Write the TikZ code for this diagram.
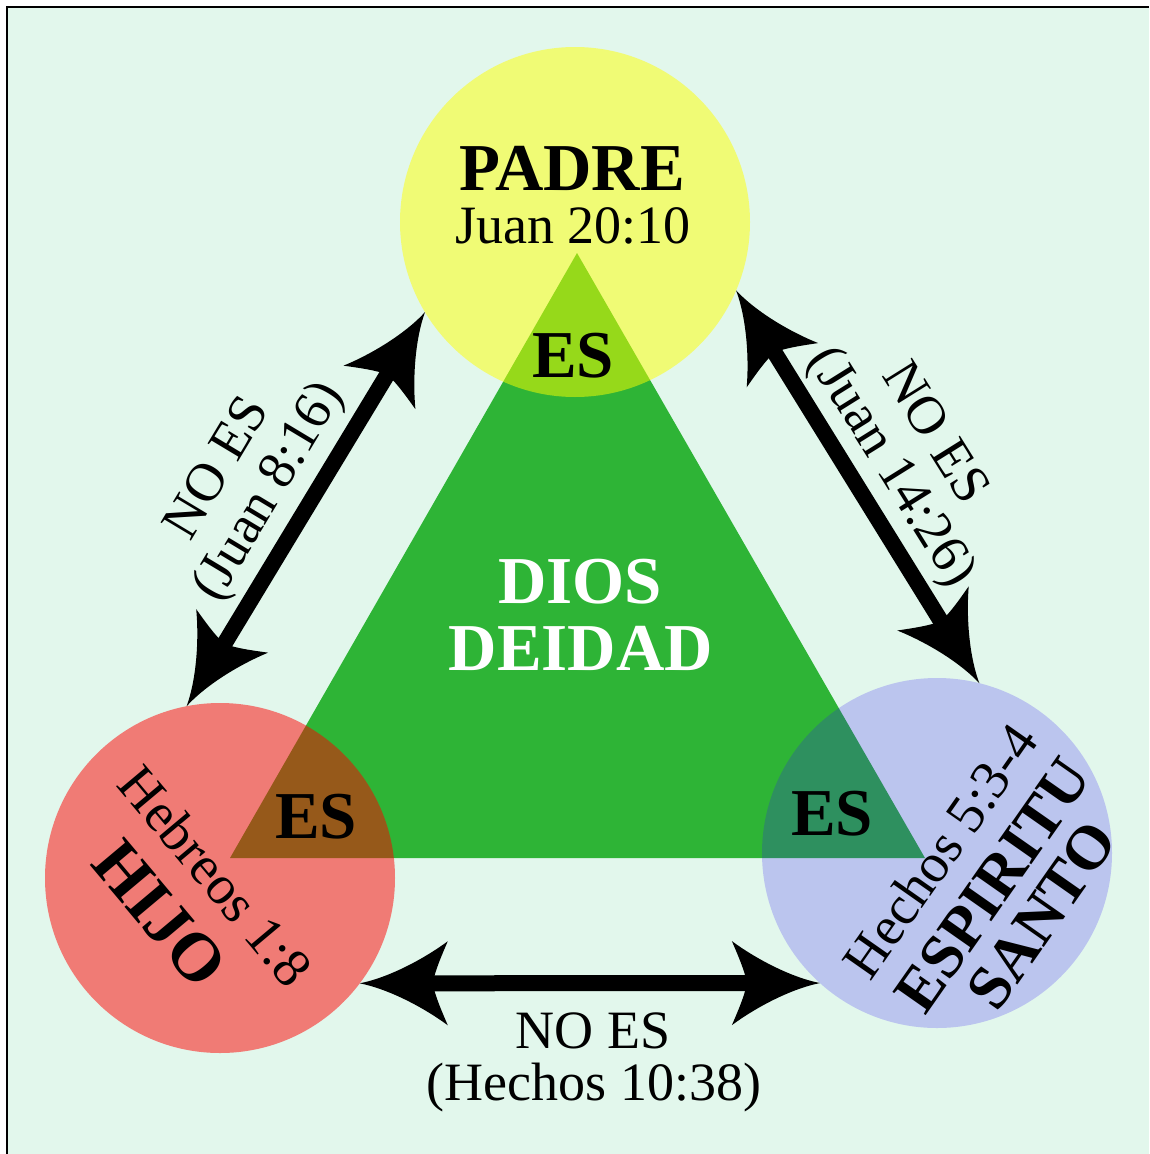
\documentclass[tikz,border=0pt]{standalone}
\usepackage{fontspec}
\setmainfont{Liberation Serif}
\definecolor{bgmint}{RGB}{226,247,236}
\definecolor{trigreen}{RGB}{46,180,54}
\definecolor{yel}{RGB}{255,255,0}
\definecolor{redc}{RGB}{255,0,0}
\definecolor{bluec}{RGB}{46,13,249}
\pgfdeclarearrow{
  name = Curvy,
  setup code = {
    \pgfarrowssettipend{0pt}
    \pgfarrowssetbackend{-88pt}
    \pgfarrowssetlineend{-68pt}
    \pgfarrowssetvisualbackend{-72pt}
    \pgfarrowshullpoint{0pt}{0pt}
    \pgfarrowshullpoint{-88pt}{42pt}
    \pgfarrowshullpoint{-88pt}{-42pt}
  },
  drawing code = {
    \pgfpathmoveto{\pgfpoint{0pt}{0pt}}
    \pgfpathcurveto{\pgfpoint{-30pt}{6pt}}{\pgfpoint{-65pt}{25pt}}{\pgfpoint{-88pt}{42pt}}
    \pgfpathcurveto{\pgfpoint{-82pt}{28pt}}{\pgfpoint{-75pt}{12pt}}{\pgfpoint{-73pt}{0pt}}
    \pgfpathcurveto{\pgfpoint{-75pt}{-12pt}}{\pgfpoint{-82pt}{-28pt}}{\pgfpoint{-88pt}{-42pt}}
    \pgfpathcurveto{\pgfpoint{-65pt}{-25pt}}{\pgfpoint{-30pt}{-6pt}}{\pgfpoint{0pt}{0pt}}
    \pgfpathclose
    \pgfusepathqfill
  },
}
\tikzset{
  disc/.style={circle, minimum size=350pt, inner sep=0pt, outer sep=0pt, draw=none},
  lbl/.style={inner sep=0pt, outer sep=0pt, font=\fontsize{54}{54}\selectfont},
  blbl/.style={inner sep=0pt, outer sep=0pt, font=\fontsize{67}{67}\selectfont\bfseries},
  rlbl/.style={inner sep=0pt, outer sep=0pt, font=\fontsize{55}{55}\selectfont},
  conn/.style={line width=16pt, color=black, Curvy-Curvy},
}
\begin{document}
\begin{tikzpicture}[x=1pt, y=-1pt]
\useasboundingbox (0,0) rectangle (1149,1154);
\fill[white] (0,0) rectangle (1149,1154);
\fill[bgmint] (7,7) rectangle (1149,1154);
\draw[line width=2.5pt, black] (7,1154) -- (7,7) -- (1149,7);
% triangle
\fill[trigreen] (577,253) -- (230,858) -- (925,858) -- cycle;
% circles
\node[disc, fill=yel, fill opacity=0.5] (padre) at (575,222) {};
\node[disc, fill=redc, fill opacity=0.5] (hijo) at (220,878) {};
\node[disc, fill=bluec, fill opacity=0.21] (esp) at (937,853) {};
% connectors
\draw[conn] (padre.211) -- (hijo.101);
\draw[conn] (padre.-23) -- (esp.76.5);
\draw[conn] (hijo.-37) -- (esp.228);
% texts
\node[blbl, anchor=base] (tpadre) at (572,190) {PADRE};
\node[lbl, anchor=base] (tjuan) at (573,243) {Juan 20:10};
\node[blbl, anchor=base] (es1) at (573,377) {ES};
\node[blbl, anchor=base, white] (dios) at (580,603) {DIOS};
\node[blbl, anchor=base, white] (deidad) at (581,670) {DEIDAD};
\node[blbl, anchor=base] (es2) at (316,838) {ES};
\node[blbl, anchor=base] (es3) at (832,835) {ES};
% hijo texts
\node[rlbl, rotate=-50] (hebreos) at (216,876) {Hebreos 1:8};
\node[blbl, font=\fontsize{68}{68}\selectfont\bfseries, rotate=-50] (thijo) at (160,914) {HIJO};
% espiritu texts
\node[rlbl, rotate=55] (hechos) at (940,851) {Hechos 5:3-4};
\node[blbl, font=\fontsize{62}{62}\selectfont\bfseries, rotate=55] (tesp) at (993,885) {ESPIRITU};
\node[blbl, font=\fontsize{62}{62}\selectfont\bfseries, rotate=55] (tsanto) at (1042,915) {SANTO};
% arrow labels
\node[lbl, rotate=59] (noes1) at (215,467) {NO ES};
\node[lbl, rotate=59] (ref1) at (270,492) {(Juan 8:16)};
\node[lbl, rotate=-58] (noes2) at (937,432) {NO ES};
\node[lbl, rotate=-58] (ref2) at (890,468) {(Juan 14:26)};
\node[lbl, anchor=base] (noes3) at (593,1048) {NO ES};
\node[lbl, anchor=base] (ref3) at (594,1100) {(Hechos 10:38)};
\end{tikzpicture}
\end{document}
